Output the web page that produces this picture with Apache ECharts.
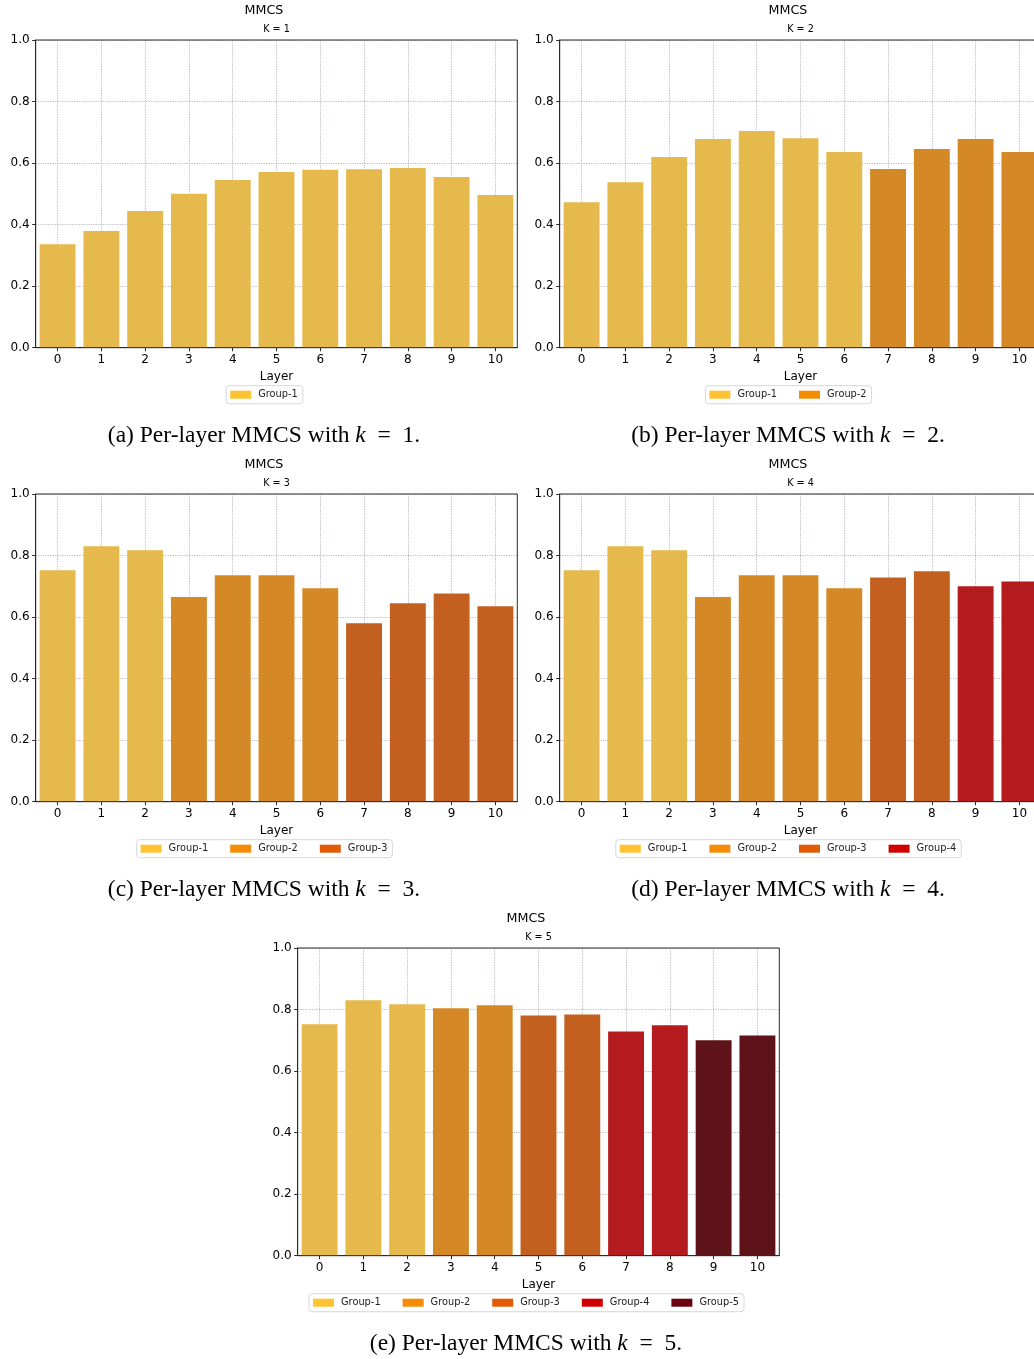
<!DOCTYPE html>
<html><head><meta charset="utf-8">
<script src="https://cdn.jsdelivr.net/npm/echarts@6/dist/echarts.min.js"></script>
<style>
html,body{margin:0;padding:0;width:1034px;height:1359px;overflow:hidden;background:#fff;}
.p{position:absolute;width:528px;height:454px;}
</style></head><body>
<div id="pa" class="p" style="left:0px;top:0px"></div>
<div id="pb" class="p" style="left:524.3px;top:0px"></div>
<div id="pc" class="p" style="left:0px;top:453.7px"></div>
<div id="pd" class="p" style="left:524.3px;top:453.7px"></div>
<div id="pe" class="p" style="left:262px;top:907.7px"></div>
<script>
// ---- data ----
const layers = ['0','1','2','3','4','5','6','7','8','9','10'];
const groupNames = ['Group-1','Group-2','Group-3','Group-4','Group-5'];
const legendColors = ['#FFC233','#F48C06','#E35A04','#D00000','#6A040F'];
const barColors = ['#E6B94D','#D58926','#C35F1F','#B41B1F','#5E121A'];
const yTickValues = [0.0,0.2,0.4,0.6,0.8,1.0];

const valuesK1 = [0.336,0.379,0.444,0.500,0.545,0.571,0.578,0.580,0.584,0.555,0.496];
const groupsK1 = [0,0,0,0,0,0,0,0,0,0,0];
const valuesK2 = [0.473,0.538,0.620,0.678,0.704,0.681,0.636,0.581,0.646,0.678,0.636];
const groupsK2 = [0,0,0,0,0,0,0,1,1,1,1];
const valuesK3 = [0.752,0.830,0.817,0.665,0.736,0.736,0.694,0.580,0.645,0.677,0.635];
const groupsK3 = [0,0,0,1,1,1,1,2,2,2,2];
const valuesK4 = [0.752,0.830,0.817,0.665,0.736,0.736,0.694,0.729,0.749,0.700,0.716];
const groupsK4 = [0,0,0,1,1,1,1,2,2,3,3];
const valuesK5 = [0.752,0.830,0.817,0.804,0.814,0.781,0.784,0.729,0.749,0.700,0.716];
const groupsK5 = [0,0,0,1,1,2,2,3,3,4,4];

const panels = [
  {id:'pa', k:1, letter:'a', values:valuesK1, groups:groupsK1},
  {id:'pb', k:2, letter:'b', values:valuesK2, groups:groupsK2},
  {id:'pc', k:3, letter:'c', values:valuesK3, groups:groupsK3},
  {id:'pd', k:4, letter:'d', values:valuesK4, groups:groupsK4},
  {id:'pe', k:5, letter:'e', values:valuesK5, groups:groupsK5}
];

const SANS = 'DejaVu Sans';
const gridLine = {show:true, lineStyle:{color:'#b6bdca', width:1, type:[1.2,1.2]}};

function makeOption(p){
  const n = p.k;
  const series = [];
  for (let g=0; g<n; g++){
    series.push({
      name: groupNames[g], type:'bar', stack:'all', barWidth:'82%',
      itemStyle:{color:barColors[g]},
      emphasis:{disabled:true},
      data: p.values.map((v,i)=> p.groups[i]===g ? v : '-')
    });
  }
  return {
    animation:false,
    title:[
      {text:'MMCS', left:264, top:4.5, textAlign:'center', padding:0,
       textStyle:{fontFamily:SANS, fontSize:12.7, fontWeight:'normal', color:'#000', lineHeight:13}},
      {text:'K = '+p.k, left:276.5, top:24.5, textAlign:'center', padding:0,
       textStyle:{fontFamily:SANS, fontSize:9.6, fontWeight:'normal', color:'#000', lineHeight:10}},
      {text:'{r|('+p.letter+') Per-layer MMCS with }{i|k}{r|\u2002=\u2002'+p.k+'.}', left:264, top:423, textAlign:'center', padding:0,
       textStyle:{fontFamily:'Liberation Serif', fontSize:23.5, fontWeight:'normal', color:'#000',
         rich:{r:{fontFamily:'Liberation Serif', fontSize:23.5, color:'#000', lineHeight:26},
               i:{fontFamily:'Liberation Serif', fontStyle:'italic', fontSize:23.5, color:'#000', lineHeight:26}}}}
    ],
    legend:{
      left:'center', top:385.7, orient:'horizontal', icon:'rect',
      itemWidth:21, itemHeight:8, itemGap:22,
      padding:[4,5,4,4], borderColor:'#d8d8d8', borderWidth:1, borderRadius:3,
      textStyle:{fontFamily:SANS, fontSize:9.8, color:'#222', padding:[0,0,0,2]},
      selectedMode:false,
      data: groupNames.slice(0,n).map((nm,g)=>({name:nm, itemStyle:{color:legendColors[g], borderWidth:0}}))
    },
    grid:{left:35.7, top:40, width:481.6, height:307.7, show:true, borderColor:'#2a2a2a', borderWidth:1, z:10, backgroundColor:'transparent'},
    xAxis:{
      type:'category', data:layers,
      axisLine:{show:true, lineStyle:{color:'#2a2a2a', width:1}},
      axisTick:{show:true, alignWithLabel:true, length:3.5, lineStyle:{color:'#2a2a2a'}},
      axisLabel:{interval:0, margin:6, fontFamily:SANS, fontSize:12, color:'#000'},
      splitLine:Object.assign({alignWithLabel:true, interval:0}, gridLine),
      name:'Layer', nameLocation:'middle', nameGap:20,
      nameTextStyle:{fontFamily:SANS, fontSize:12, color:'#000'}
    },
    yAxis:{
      type:'value', min:0, max:1, interval:0.2,
      axisLine:{show:true, lineStyle:{color:'#2a2a2a', width:1}},
      axisTick:{show:true, length:3.5, lineStyle:{color:'#2a2a2a'}},
      axisLabel:{margin:6, fontFamily:SANS, fontSize:12, color:'#000', formatter:v=>v.toFixed(1)},
      splitLine:gridLine
    },
    series:series
  };
}

panels.forEach(p=>{
  const c = echarts.init(document.getElementById(p.id), null, {renderer:'canvas'});
  c.setOption(makeOption(p));
});
</script>
</body></html>
